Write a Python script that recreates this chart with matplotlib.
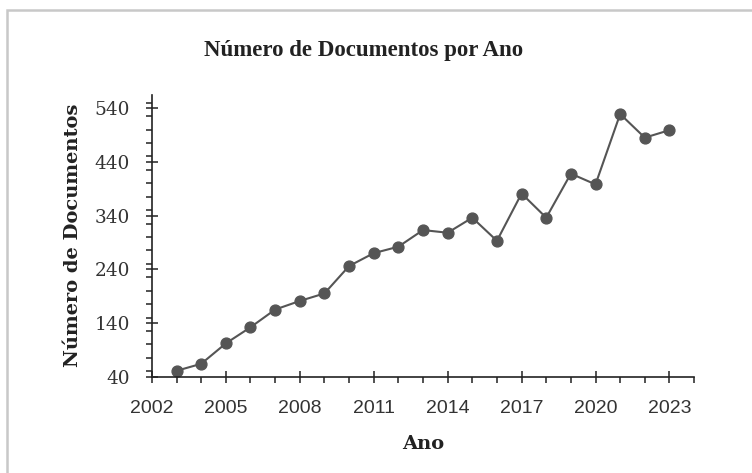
import matplotlib
matplotlib.use("Agg")
import matplotlib.pyplot as plt
from matplotlib.ticker import MultipleLocator, FixedLocator
from matplotlib.patches import Rectangle

# data
anos = [2003, 2004, 2005, 2006, 2007, 2008, 2009, 2010, 2011, 2012, 2013,
        2014, 2015, 2016, 2017, 2018, 2019, 2020, 2021, 2022, 2023]
documentos = [51, 64, 102, 132, 165, 181, 195, 246, 270, 282, 313,
              308, 336, 293, 381, 336, 418, 398, 529, 485, 499]
x_labels = [2002, 2005, 2008, 2011, 2014, 2017, 2020, 2023]
y_labels = [40, 140, 240, 340, 440, 540]

plt.rcParams['font.family'] = ['DejaVu Serif']

fig = plt.figure(figsize=(7.52, 4.73), dpi=100)
ax = fig.add_axes([0.202, 0.2036, 0.721, 0.5962])

ax.plot(anos, documentos, color='#555555', linewidth=1.5,
        marker='o', markersize=7.8, markerfacecolor='#555555', markeredgecolor='#555555')

ax.set_xlim(2002, 2024)
ax.set_ylim(40, 565)

ax.xaxis.set_major_locator(FixedLocator(x_labels))
ax.xaxis.set_minor_locator(MultipleLocator(1))
ax.yaxis.set_major_locator(FixedLocator(y_labels))
ax.yaxis.set_minor_locator(MultipleLocator(25))

ax.tick_params(axis='both', which='major', direction='inout', length=8.5, width=1.1,
               color='#222222', labelcolor='#333333')
ax.tick_params(axis='both', which='minor', direction='out', length=4, width=1.1,
               color='#222222')
ax.tick_params(axis='x', which='major', pad=12.5, labelsize=14)
ax.tick_params(axis='y', which='major', pad=11.5, labelsize=13.3)
for lab in ax.get_xticklabels():
    lab.set_family('Liberation Sans')

for s in ['top', 'right']:
    ax.spines[s].set_visible(False)
for s in ['left', 'bottom']:
    ax.spines[s].set_linewidth(1.2)
    ax.spines[s].set_color('#222222')

ax.set_xlabel('Ano', fontsize=14, fontweight='bold', color='#222222', labelpad=13)
ax.set_ylabel('Número de Documentos', fontsize=14, fontweight='bold', color='#222222', labelpad=9)

fig.text(0.483, 1 - 56 / 473, 'Número de Documentos por Ano', ha='center', va='baseline',
         fontsize=16.5, fontweight='bold', color='#222222', family='Liberation Serif')

# light grey border of the chart area
fig.patches.append(Rectangle((7 / 752, -0.1), 1.2, 1.1 - 10 / 473, transform=fig.transFigure,
                             fill=False, edgecolor='#c8c8c8', linewidth=1.8))

fig.savefig('out.png', dpi=100)
